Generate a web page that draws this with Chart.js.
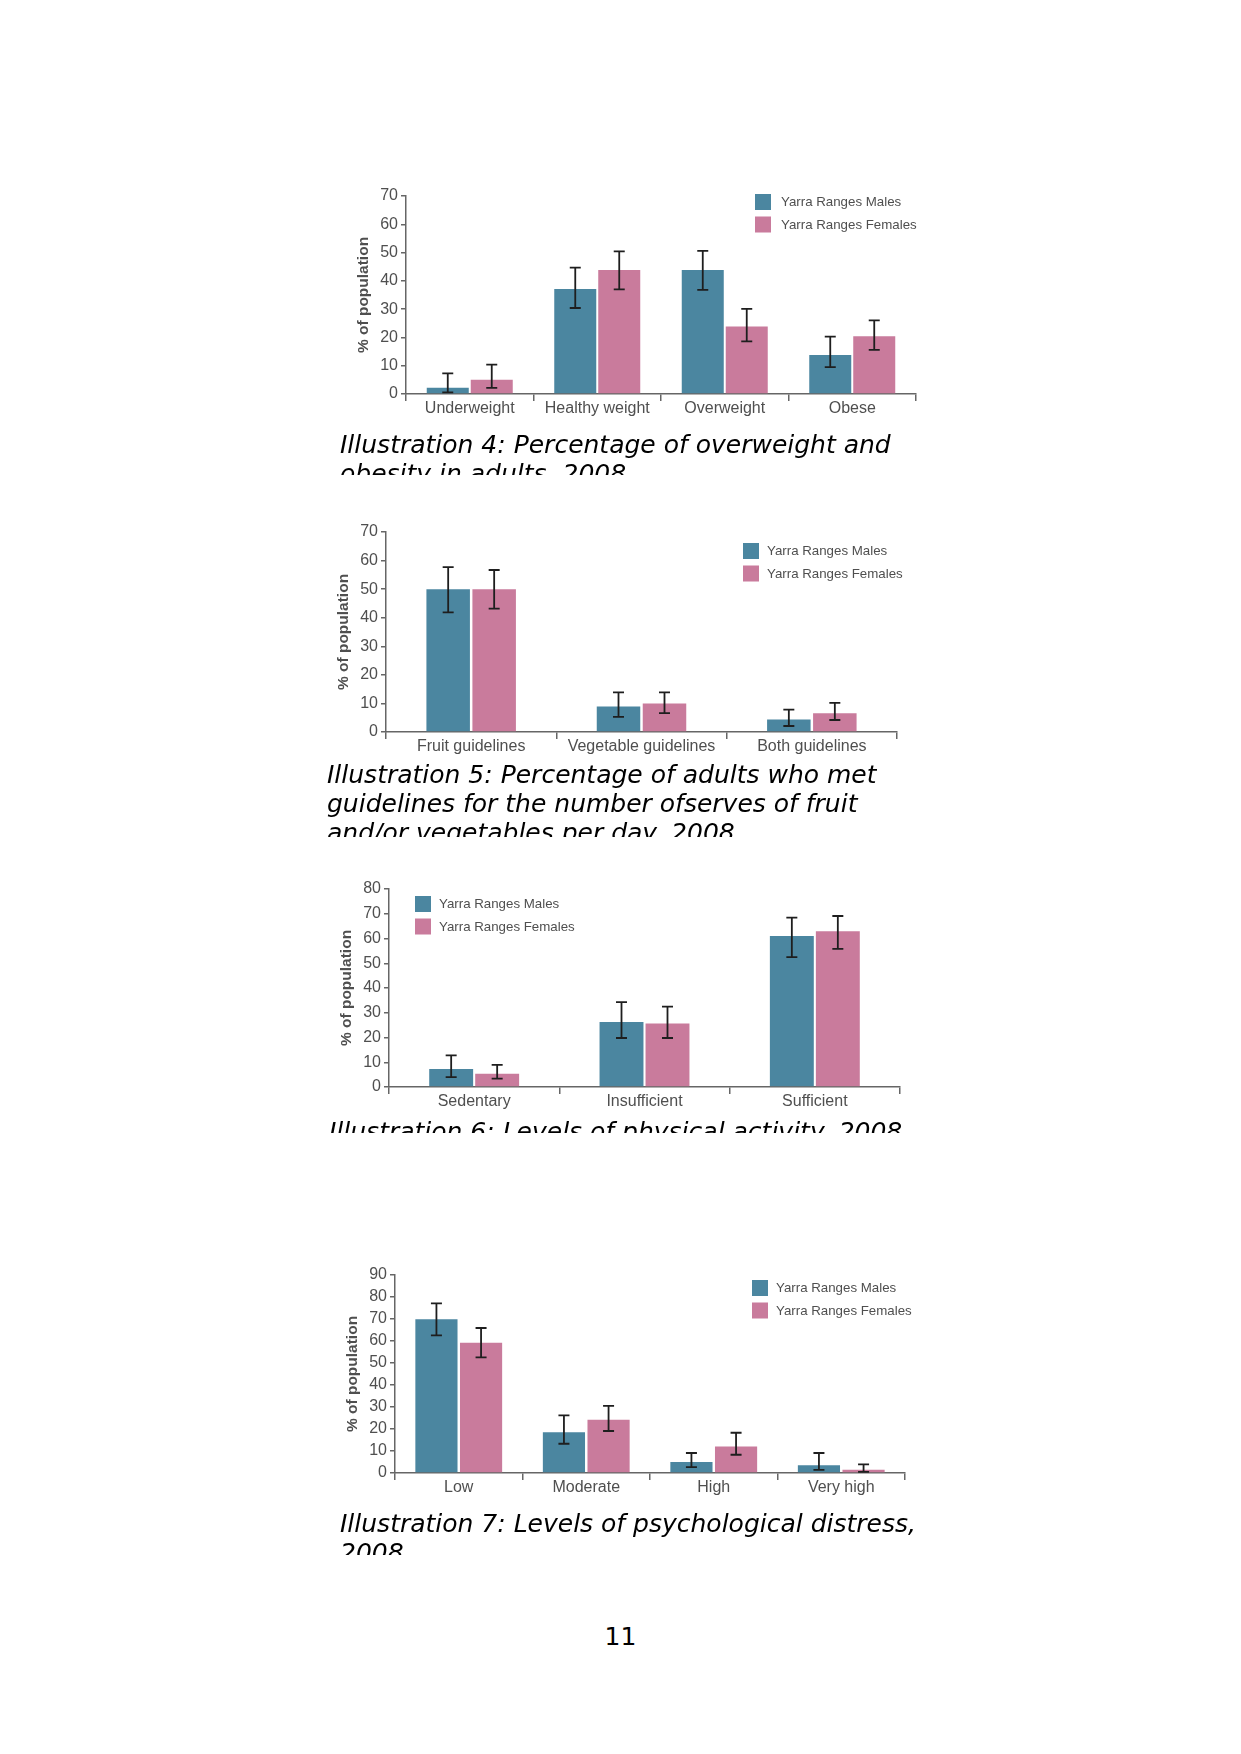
<!DOCTYPE html>
<html>
<head>
<meta charset="utf-8">
<script src="https://cdn.jsdelivr.net/npm/chart.js@4.4.1/dist/chart.umd.min.js"></script>
<style>
  html, body { margin: 0; padding: 0; background: #fff; }
  body { width: 1241px; height: 1754px; position: relative; overflow: hidden; }
  .cw { position: absolute; }
  .cap { position: absolute; font-family: "DejaVu Sans", sans-serif; font-style: italic; font-size: 25px;
         line-height: 29px; color: #000; white-space: nowrap; overflow: hidden; }
  .pn { position: absolute; left: 0; width: 1241px; text-align: center; font-family: "DejaVu Sans", sans-serif;
        font-size: 25px; line-height: 29px; color: #000; }
</style>
</head>
<body>

<div class="cw" id="w1"><canvas id="c1"></canvas></div>
<div class="cap" style="left:340px; top:430px; height:45px;">Illustration 4: Percentage of overweight and<br>obesity in adults, 2008</div>

<div class="cw" id="w2"><canvas id="c2"></canvas></div>
<div class="cap" style="left:327px; top:760px; height:77px;">Illustration 5: Percentage of adults who met<br>guidelines for the number ofserves of fruit<br>and/or vegetables per day, 2008</div>

<div class="cw" id="w3"><canvas id="c3"></canvas></div>
<div class="cap" style="left:329px; top:1117px; height:16px;">Illustration 6: Levels of physical activity, 2008</div>

<div class="cw" id="w4"><canvas id="c4"></canvas></div>
<div class="cap" style="left:340px; top:1509px; height:46px;">Illustration 7: Levels of psychological distress,<br>2008</div>

<div class="pn" style="top:1622px;">11</div>

<script>
// ---------- DATA ----------
const seriesNames = ['Yarra Ranges Males', 'Yarra Ranges Females'];

// Illustration 4: overweight and obesity
const cats1 = ['Underweight', 'Healthy weight', 'Overweight', 'Obese'];
const males1 = [2.2, 37.1, 43.8, 13.8];
const males1Low = [0.6, 30.4, 36.8, 9.5];
const males1High = [7.3, 44.7, 50.6, 20.3];
const females1 = [5.0, 43.8, 23.9, 20.4];
const females1Low = [2.2, 37.0, 18.6, 15.6];
const females1High = [10.4, 50.4, 30.1, 26.0];
const ticks1 = [0, 10, 20, 30, 40, 50, 60, 70];

// Illustration 5: fruit and vegetables
const cats2 = ['Fruit guidelines', 'Vegetable guidelines', 'Both guidelines'];
const males2 = [50.0, 8.9, 4.4];
const males2Low = [41.9, 5.3, 2.1];
const males2High = [57.7, 13.9, 7.8];
const females2 = [50.0, 10.0, 6.6];
const females2Low = [43.2, 6.6, 4.2];
const females2High = [56.7, 13.9, 10.2];
const ticks2 = [0, 10, 20, 30, 40, 50, 60, 70];

// Illustration 6: physical activity
const cats3 = ['Sedentary', 'Insufficient', 'Sufficient'];
const males3 = [7.3, 26.3, 61.0];
const males3Low = [4.0, 19.8, 52.5];
const males3High = [12.8, 34.3, 68.4];
const females3 = [5.4, 25.7, 62.9];
const females3Low = [3.4, 19.8, 55.8];
const females3High = [8.9, 32.5, 69.1];
const ticks3 = [0, 10, 20, 30, 40, 50, 60, 70, 80];

// Illustration 7: psychological distress
const cats4 = ['Low', 'Moderate', 'High', 'Very high'];
const males4 = [69.9, 18.5, 5.0, 3.5];
const males4Low = [62.6, 13.3, 2.7, 1.4];
const males4High = [77.1, 26.2, 9.1, 9.1];
const females4 = [59.2, 24.2, 12.1, 1.5];
const females4Low = [52.6, 19.1, 8.3, 0.5];
const females4High = [65.9, 30.5, 18.3, 3.9];
const ticks4 = [0, 10, 20, 30, 40, 50, 60, 70, 80, 90];

// ---------- STYLE ----------
const MALE = '#4b86a0';
const FEMALE = '#c97b9c';
const AXIS = '#666666';
const TXT = '#4f4f4f';
const FONT = '"Liberation Sans", Arial, sans-serif';
const PADL = 90, PADT = 30, PADR = 20, PADB = 45;

const errorBars = {
  id: 'errorBars',
  afterDatasetsDraw(chart) {
    const ctx = chart.ctx;
    const y = chart.scales.y;
    ctx.save();
    ctx.strokeStyle = '#1e1e1e';
    ctx.lineWidth = 1.8;
    chart.data.datasets.forEach((ds, i) => {
      const meta = chart.getDatasetMeta(i);
      meta.data.forEach((bar, j) => {
        const lo = y.getPixelForValue(ds.errLow[j]);
        const hi = y.getPixelForValue(ds.errHigh[j]);
        const x = bar.x;
        const cw = 5.5;
        ctx.beginPath();
        ctx.moveTo(x, lo); ctx.lineTo(x, hi);
        ctx.moveTo(x - cw, hi); ctx.lineTo(x + cw, hi);
        ctx.moveTo(x - cw, lo); ctx.lineTo(x + cw, lo);
        ctx.stroke();
      });
    });
    ctx.restore();
  }
};

const boxLegend = {
  id: 'boxLegend',
  afterDraw(chart, args, opts) {
    const ctx = chart.ctx;
    ctx.save();
    ctx.font = '13.3px ' + FONT;
    ctx.textBaseline = 'middle';
    ctx.textAlign = 'left';
    chart.data.datasets.forEach((ds, i) => {
      const by = opts.y + i * opts.gap;
      ctx.fillStyle = ds.backgroundColor;
      ctx.fillRect(opts.x, by, opts.box, opts.box);
      ctx.fillStyle = TXT;
      ctx.fillText(ds.label, opts.textX, by + opts.box / 2 + 0.5);
    });
    ctx.restore();
  }
};

function makeChart(n, area, cats, m, mLo, mHi, f, fLo, fHi, ticks, catPct, barPct, leg) {
  const wrap = document.getElementById('w' + n);
  const cl = area.left - PADL, ct = area.top - PADT;
  const W = (area.right - area.left) + PADL + PADR;
  const H = (area.bottom - area.top) + PADT + PADB;
  wrap.style.left = cl + 'px';
  wrap.style.top = ct + 'px';
  wrap.style.width = W + 'px';
  wrap.style.height = H + 'px';
  new Chart(document.getElementById('c' + n), {
    type: 'bar',
    data: {
      labels: cats,
      datasets: [
        { label: seriesNames[0], data: m, errLow: mLo, errHigh: mHi, backgroundColor: MALE,
          categoryPercentage: catPct, barPercentage: barPct },
        { label: seriesNames[1], data: f, errLow: fLo, errHigh: fHi, backgroundColor: FEMALE,
          categoryPercentage: catPct, barPercentage: barPct }
      ]
    },
    options: {
      responsive: true,
      maintainAspectRatio: false,
      animation: false,
      devicePixelRatio: 1,
      layout: { padding: { left: 0, top: PADT, right: PADR, bottom: 0 } },
      plugins: {
        legend: { display: false },
        tooltip: { enabled: false },
        boxLegend: { x: leg.x - cl, y: leg.y - ct, textX: leg.tx - cl, box: 16, gap: 22.5 }
      },
      scales: {
        x: {
          offset: true,
          grid: { offset: true, drawOnChartArea: false, drawTicks: true, tickLength: 7, color: AXIS, lineWidth: 1.5 },
          border: { display: true, color: AXIS, width: 1.5 },
          ticks: { color: TXT, font: { family: FONT, size: 16 }, padding: -2, maxRotation: 0, autoSkip: false },
          afterFit: (s) => { s.height = PADB; }
        },
        y: {
          min: ticks[0],
          max: ticks[ticks.length - 1],
          afterBuildTicks: (s) => { s.ticks = ticks.map(v => ({ value: v })); },
          grid: { drawOnChartArea: false, drawTicks: true, tickLength: 5, color: AXIS, lineWidth: 1.5 },
          border: { display: true, color: AXIS, width: 1.5 },
          ticks: { color: TXT, font: { family: FONT, size: 16 }, padding: 3, autoSkip: false },
          title: { display: true, text: '% of population', color: TXT,
                   font: { family: FONT, size: 15.5, weight: 'bold' }, padding: { top: 38, bottom: 0 } },
          afterFit: (s) => { s.width = PADL; }
        }
      }
    },
    plugins: [errorBars, boxLegend]
  });
}

makeChart(1, { left: 406, top: 196, right: 916, bottom: 394 }, cats1,
  males1, males1Low, males1High, females1, females1Low, females1High, ticks1, 0.69, 0.955,
  { x: 755, y: 194, tx: 781 });
makeChart(2, { left: 386, top: 532, right: 897, bottom: 732 }, cats2,
  males2, males2Low, males2High, females2, females2Low, females2High, ticks2, 0.54, 0.946,
  { x: 743, y: 543, tx: 767 });
makeChart(3, { left: 389, top: 889, right: 900, bottom: 1087 }, cats3,
  males3, males3Low, males3High, females3, females3Low, females3High, ticks3, 0.54, 0.955,
  { x: 415, y: 896, tx: 439 });
makeChart(4, { left: 395, top: 1275, right: 905, bottom: 1473 }, cats4,
  males4, males4Low, males4High, females4, females4Low, females4High, ticks4, 0.70, 0.945,
  { x: 752, y: 1280, tx: 776 });
</script>
</body>
</html>
